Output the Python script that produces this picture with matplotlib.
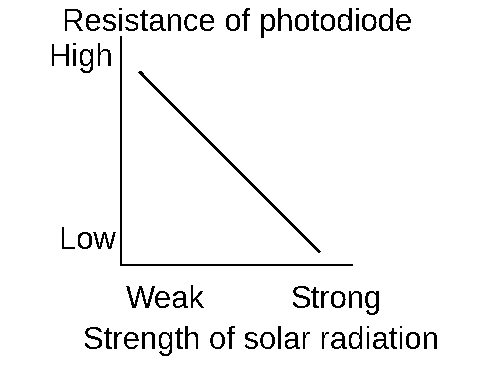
import matplotlib
matplotlib.use('Agg')
import matplotlib.pyplot as plt

plt.rcParams['font.family'] = ['Liberation Sans', 'DejaVu Sans']
plt.rcParams['text.antialiased'] = False

# dados
x_vals = [0.083, 0.857]
y_vals = [0.845, 0.058]
x_labels = ['Weak', 'Strong']
y_labels = ['Low', 'High']

fig = plt.figure(figsize=(4.8, 3.68), dpi=100)
ax = fig.add_axes([121 / 480, 1 - 265 / 368, 231 / 480, 228 / 368])

ax.plot(x_vals, y_vals, color='black', linewidth=1.2, antialiased=False)
ax.set_xlim(0, 1)
ax.set_ylim(0, 1)

for lado in ['top', 'right']:
    ax.spines[lado].set_visible(False)
for lado in ['left', 'bottom']:
    ax.spines[lado].set_linewidth(1.2)
    ax.spines[lado].set_antialiased(False)
ax.set_xticks([])
ax.set_yticks([])

fs = 22.3
# rótulos dos eixos (linha de base)
fig.text(237.5 / 480, 1 - 31 / 368, 'Resistance of photodiode', ha='center', va='baseline', fontsize=fs)
fig.text(113 / 480, 1 - 66 / 368, y_labels[1], ha='right', va='baseline', fontsize=fs)
fig.text(116 / 480, 1 - 249 / 368, y_labels[0], ha='right', va='baseline', fontsize=fs)
fig.text(165 / 480, 1 - 308 / 368, x_labels[0], ha='center', va='baseline', fontsize=fs)
fig.text(336 / 480, 1 - 308 / 368, x_labels[1], ha='center', va='baseline', fontsize=fs)
fig.text(260.5 / 480, 1 - 349 / 368, 'Strength of solar radiation', ha='center', va='baseline', fontsize=fs)

fig.savefig('out.png', dpi=100, facecolor='white')
